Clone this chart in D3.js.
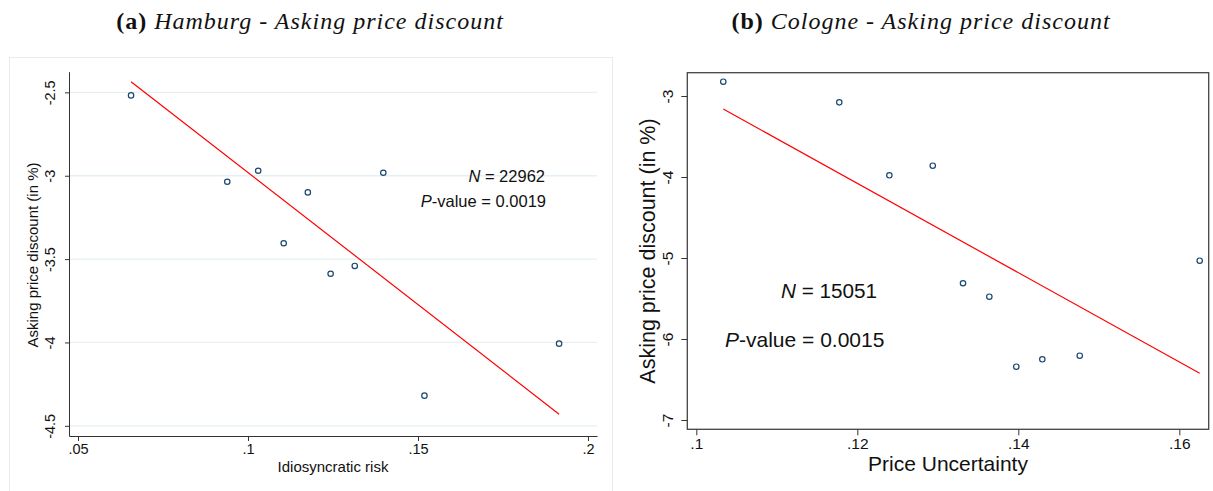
<!DOCTYPE html>
<html>
<head>
<meta charset="utf-8">
<script src="https://cdn.jsdelivr.net/npm/d3@7"></script>
<style>
  body { margin: 0; background: #fff; }
  svg { display: block; }
</style>
</head>
<body>
<div id="chart"></div>
<script>
// Hamburg panel data
let hamburgRisk = [0.0656, 0.0939, 0.1030, 0.1105, 0.1176, 0.1243, 0.1314, 0.1398, 0.1519, 0.1915];
let hamburgDiscount = [-2.518, -3.036, -2.970, -3.405, -3.100, -3.588, -3.541, -2.982, -4.319, -4.007];
let hamburgFitX = [0.0656, 0.1915];
let hamburgFitY = [-2.436, -4.430];
let hamburgXTicks = [0.05, 0.1, 0.15, 0.2];
let hamburgXLabels = [".05", ".1", ".15", ".2"];
let hamburgYTicks = [-2.5, -3, -3.5, -4, -4.5];
let hamburgYLabels = ["-2.5", "-3", "-3.5", "-4", "-4.5"];

// Cologne panel data
let cologneUncertainty = [0.10335, 0.11776, 0.12398, 0.12937, 0.13313, 0.13640, 0.13975, 0.14298, 0.14763, 0.16253];
let cologneDiscount = [-2.823, -3.078, -3.979, -3.860, -5.312, -5.478, -6.342, -6.251, -6.206, -5.033];
let cologneFitX = [0.10335, 0.16253];
let cologneFitY = [-3.160, -6.423];
let cologneXTicks = [0.1, 0.12, 0.14, 0.16];
let cologneXLabels = [".1", ".12", ".14", ".16"];
let cologneYTicks = [-3, -4, -5, -6, -7];
let cologneYLabels = ["-3", "-4", "-5", "-6", "-7"];

let svg = d3.select("#chart")
  .append("svg")
  .attr("width", 1213)
  .attr("height", 491);

let sans = "'Liberation Sans', Arial, Helvetica, sans-serif";
let serif = "'Liberation Serif', 'Times New Roman', serif";
let navy = "#1a476f";

// panel titles
function addTitle(x, tag, rest) {
  let t = svg.append("text")
    .attr("x", x)
    .attr("y", 29)
    .attr("text-anchor", "middle")
    .attr("font-family", serif)
    .attr("font-size", "24px")
    .attr("letter-spacing", "1px")
    .attr("fill", "#111");
  t.append("tspan").attr("font-weight", "bold").text(tag + " ");
  t.append("tspan").attr("font-style", "italic").text(rest);
}
addTitle(310, "(a)", "Hamburg - Asking price discount");
addTitle(921, "(b)", "Cologne - Asking price discount");

// ---------- left panel (Hamburg) ----------
svg.append("rect")
  .attr("x", 9.5).attr("y", 57.5)
  .attr("width", 603).attr("height", 440)
  .attr("fill", "#fff")
  .attr("stroke", "#e4ecee");

let xA = d3.scaleLinear().domain([0.04735, 0.20265]).range([69, 597]);
let yA = d3.scaleLinear().domain([-4.561, -2.376]).range([436, 71.7]);

let gA = svg.append("g");

// gridlines
gA.selectAll(".grid")
  .data(hamburgYTicks)
  .enter()
  .append("line")
  .attr("x1", 69).attr("x2", 597)
  .attr("y1", d => yA(d)).attr("y2", d => yA(d))
  .attr("stroke", "#e6eff1")
  .attr("stroke-width", 1.3);

let axA = gA.append("g")
  .attr("transform", "translate(0,436)")
  .call(d3.axisBottom(xA).tickValues(hamburgXTicks)
    .tickFormat((d, i) => hamburgXLabels[i]).tickSize(5).tickSizeOuter(0));
axA.selectAll("text").attr("y", 8).attr("dy", "0.71em");

let ayA = gA.append("g")
  .attr("transform", "translate(69,0)")
  .call(d3.axisLeft(yA).tickValues(hamburgYTicks)
    .tickFormat((d, i) => hamburgYLabels[i]).tickSize(4).tickSizeOuter(0));
ayA.selectAll("text")
  .attr("transform", "rotate(-90)")
  .attr("x", 0).attr("y", -14).attr("dy", 0)
  .attr("text-anchor", "middle");

[axA, ayA].forEach(a => {
  a.selectAll("text").attr("font-family", sans).attr("font-size", "14.5px").attr("fill", "#111");
  a.selectAll("line").attr("stroke", "#333");
  a.select(".domain").attr("stroke", "#333");
});

gA.append("text")
  .attr("x", 333).attr("y", 472)
  .attr("text-anchor", "middle")
  .attr("font-family", sans).attr("font-size", "15px").attr("fill", "#111")
  .text("Idiosyncratic risk");

gA.append("text")
  .attr("transform", "translate(38,255) rotate(-90)")
  .attr("text-anchor", "middle")
  .attr("font-family", sans).attr("font-size", "15px").attr("fill", "#111")
  .text("Asking price discount (in %)");

// fit line
gA.append("line")
  .attr("x1", xA(hamburgFitX[0])).attr("y1", yA(hamburgFitY[0]))
  .attr("x2", xA(hamburgFitX[1])).attr("y2", yA(hamburgFitY[1]))
  .attr("stroke", "#ff0000").attr("stroke-width", 1.2);

gA.selectAll("circle")
  .data(hamburgRisk)
  .enter()
  .append("circle")
  .attr("cx", d => xA(d))
  .attr("cy", (d, i) => yA(hamburgDiscount[i]))
  .attr("r", 2.7)
  .attr("fill", "none")
  .attr("stroke", navy)
  .attr("stroke-width", 1.2);

let nA = gA.append("text")
  .attr("x", 545).attr("y", 182)
  .attr("text-anchor", "end")
  .attr("font-family", sans).attr("font-size", "16.5px").attr("fill", "#111");
nA.append("tspan").attr("font-style", "italic").text("N");
nA.append("tspan").text(" = 22962");

let pA = gA.append("text")
  .attr("x", 546).attr("y", 207)
  .attr("text-anchor", "end")
  .attr("font-family", sans).attr("font-size", "16.5px").attr("fill", "#111");
pA.append("tspan").attr("font-style", "italic").text("P");
pA.append("tspan").text("-value = 0.0019");

// ---------- right panel (Cologne) ----------
let xB = d3.scaleLinear().domain([0.09888, 0.16365]).range([687.3, 1208.7]);
let yB = d3.scaleLinear().domain([-7.115, -2.712]).range([429.3, 72.7]);

let gB = svg.append("g");

gB.append("rect")
  .attr("x", 687.3).attr("y", 72.7)
  .attr("width", 1208.7 - 687.3).attr("height", 429.3 - 72.7)
  .attr("fill", "#fff")
  .attr("stroke", "#444")
  .attr("stroke-width", 1.3);

let axB = gB.append("g")
  .attr("transform", "translate(0,429.3)")
  .call(d3.axisBottom(xB).tickValues(cologneXTicks)
    .tickFormat((d, i) => cologneXLabels[i]).tickSize(6).tickSizeOuter(0));
axB.selectAll("text").attr("y", 9).attr("dy", "0.71em");

let ayB = gB.append("g")
  .attr("transform", "translate(687.3,0)")
  .call(d3.axisLeft(yB).tickValues(cologneYTicks)
    .tickFormat((d, i) => cologneYLabels[i]).tickSize(6).tickSizeOuter(0));
ayB.selectAll("text")
  .attr("transform", "rotate(-90)")
  .attr("x", 0).attr("y", -14).attr("dy", 0)
  .attr("text-anchor", "middle");

[axB, ayB].forEach(a => {
  a.selectAll("text").attr("font-family", sans).attr("font-size", "15.5px").attr("fill", "#111");
  a.selectAll("line").attr("stroke", "#333");
  a.select(".domain").remove();
});

gB.append("text")
  .attr("x", 948).attr("y", 471)
  .attr("text-anchor", "middle")
  .attr("font-family", sans).attr("font-size", "21px").attr("fill", "#111")
  .text("Price Uncertainty");

gB.append("text")
  .attr("transform", "translate(655,251) rotate(-90)")
  .attr("text-anchor", "middle")
  .attr("font-family", sans).attr("font-size", "21.5px").attr("fill", "#111")
  .text("Asking price discount (in %)");

gB.append("line")
  .attr("x1", xB(cologneFitX[0])).attr("y1", yB(cologneFitY[0]))
  .attr("x2", xB(cologneFitX[1])).attr("y2", yB(cologneFitY[1]))
  .attr("stroke", "#ff0000").attr("stroke-width", 1.2);

gB.selectAll("circle")
  .data(cologneUncertainty)
  .enter()
  .append("circle")
  .attr("cx", d => xB(d))
  .attr("cy", (d, i) => yB(cologneDiscount[i]))
  .attr("r", 2.7)
  .attr("fill", "none")
  .attr("stroke", navy)
  .attr("stroke-width", 1.2);

let nB = gB.append("text")
  .attr("x", 781).attr("y", 298)
  .attr("font-family", sans).attr("font-size", "20.7px").attr("fill", "#111");
nB.append("tspan").attr("font-style", "italic").text("N");
nB.append("tspan").text(" = 15051");

let pB = gB.append("text")
  .attr("x", 725).attr("y", 347)
  .attr("font-family", sans).attr("font-size", "21px").attr("fill", "#111");
pB.append("tspan").attr("font-style", "italic").text("P");
pB.append("tspan").text("-value = 0.0015");
</script>
</body>
</html>
